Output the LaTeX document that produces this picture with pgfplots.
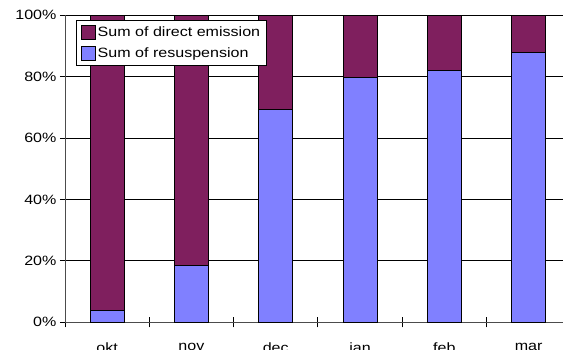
\documentclass[border=0pt]{standalone}
\usepackage{pgfplots}
\pgfplotsset{compat=1.18}
\usepackage{fontspec}
\setmainfont{Liberation Sans}[FakeStretch=1.19]

\definecolor{directcol}{RGB}{127,31,94}
\definecolor{resuscol}{RGB}{128,128,255}

\begin{document}
\begin{tikzpicture}[font=\fontsize{13.5}{16}\selectfont]
\begin{scope}
\clip (-65pt,-27.7pt) rectangle (498pt,322.3pt);
\begin{axis}[
  scale only axis,
  width=505.8pt, height=307pt,
  ybar stacked,
  bar width=34pt,
  xmin=-0.5, xmax=5.5,
  ymin=0, ymax=100,
  axis x line=bottom, axis y line=left,
  axis line style={-, black!70, line width=0.8pt},
  xtick={-0.5,0.5,...,5.5},
  xticklabels={},
  extra x ticks={0,1,2,3,4,5},
  extra x tick labels={okt,nov,dec,jan,feb,mar},
  extra x tick style={major tick length=0pt, grid=none,
    xticklabel style={yshift=-17pt}},
  x tick style={black, line width=0.8pt},
  tick align=center,
  major tick length=10pt,
  ytick={0,20,...,100},
  yticklabel={\pgfmathprintnumber{\tick}\%},
  y tick style={black, line width=0.8pt},
  ymajorgrids,
  grid style={black, line width=0.8pt},
  /pgf/number format/assume math mode=true,
  legend style={at={(0.0217,0.9847)}, anchor=north west,
    draw=black, line width=0.8pt, fill=white,
    inner xsep=5pt, inner ysep=4pt,
    row sep=6pt,
    nodes={inner xsep=1.5pt},
    cells={anchor=west}},
  legend image code/.code={\draw[#1,draw=black,line width=0.8pt] (0pt,-7pt) rectangle (14pt,7pt);},
  reverse legend,
]
% resuspension share (bottom of each bar)
\addplot[fill=resuscol, draw=black, line width=0.9pt] coordinates
  {(0,3.7) (1,18.6) (2,69.2) (3,79.8) (4,81.9) (5,87.9)};
\addlegendentry{Sum of resuspension}
% direct emission share (top of each bar)
\addplot[fill=directcol, draw=black, line width=0.9pt] coordinates
  {(0,96.3) (1,81.4) (2,30.8) (3,20.2) (4,18.1) (5,12.1)};
\addlegendentry{Sum of direct emission}
\end{axis}
\end{scope}
\pgfresetboundingbox
\useasboundingbox (-65pt,-27.7pt) rectangle (498pt,322.3pt);
\end{tikzpicture}
\end{document}
